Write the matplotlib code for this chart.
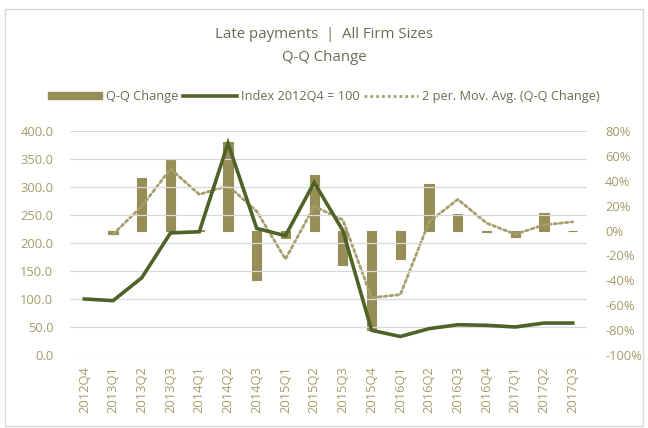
import numpy as np
import matplotlib
matplotlib.use("Agg")
import matplotlib.pyplot as plt
from matplotlib.lines import Line2D
from matplotlib.patches import Patch, Rectangle

# data
quarters = ["2012Q4", "2013Q1", "2013Q2", "2013Q3", "2014Q1", "2014Q2", "2014Q3",
            "2015Q1", "2015Q2", "2015Q3", "2015Q4", "2016Q1", "2016Q2", "2016Q3",
            "2016Q4", "2017Q1", "2017Q2", "2017Q3"]
qq_change = [np.nan, -3, 42, 57, 0.5, 71, -40, -6, 45, -28, -80, -23, 37, 13, -1, -5, 14, -0.5]
index_vals = [100, 97, 138, 218, 220, 378, 226, 213, 308, 222, 44, 33, 47, 54, 53, 50, 57, 57]
mov_avg = [np.nan, -3, 19.5, 49.5, 29, 36, 15.5, -23, 19.5, 8.5, -54, -51.5, 7, 25, 6, -3, 4.5, 7]

bar_col = "#978D57"
line_col = "#4F6228"
dot_col = "#A79E6E"
tick_col = "#A59C6A"
title_col = "#6E6B55"

plt.rcParams["font.family"] = ["Open Sans", "DejaVu Sans"]

fig = plt.figure(figsize=(6.48, 4.28), dpi=100)
fig.patches.append(Rectangle((0.008, 0.005), 0.985, 0.975, transform=fig.transFigure,
                             fill=False, edgecolor="#D9D9D9", linewidth=1))

ax = fig.add_axes([0.108, 0.1706, 0.798, 0.5234])
ax2 = ax.twinx()

x = np.arange(len(quarters))

# right axis: bars + moving average
ax2.bar(x, qq_change, width=0.32, color=bar_col, edgecolor=bar_col, linewidth=0.8, zorder=2)
ax2.plot(x, mov_avg, color=dot_col, linestyle=(0, (1, 1.1)), linewidth=2.0,
         dash_capstyle="round", zorder=3)
ax2.set_ylim(-100, 80)
ax2.set_yticks(np.arange(-100, 81, 20))
ax2.set_yticklabels(["%d%%" % v for v in np.arange(-100, 81, 20)])

# left axis: index line (drawn on top)
ax.set_zorder(ax2.get_zorder() + 1)
ax.patch.set_visible(False)
ax.plot(x, index_vals, color=line_col, linewidth=2.6, solid_joinstyle="miter", zorder=4)
ax.set_ylim(0, 400)
ax.set_yticks(np.arange(0, 401, 50))
ax.set_yticklabels(["%.1f" % v for v in np.arange(0, 401, 50)])
ax.set_xlim(-0.5, len(quarters) - 0.5)
ax.set_xticks(x)
ax.set_xticklabels(quarters, rotation=90)

# gridlines on the left scale
ax2.grid(False)
for v in np.arange(0, 401, 50):
    ax.axhline(v, color="#D9D9D9", linewidth=0.9, zorder=0)

for a in (ax, ax2):
    for s in a.spines.values():
        s.set_visible(False)
    a.tick_params(length=0, colors=tick_col, labelsize=9.3)
ax.tick_params(axis="y", pad=12)
ax2.tick_params(axis="y", pad=13)
ax.tick_params(axis="x", pad=8)

fig.text(0.5, 0.92, "Late payments  |  All Firm Sizes", ha="center", va="center",
         fontsize=10.8, color=title_col)
fig.text(0.5, 0.865, "Q-Q Change", ha="center", va="center", fontsize=10.8, color=title_col)

handles = [Patch(facecolor=bar_col, edgecolor=bar_col),
           Line2D([], [], color=line_col, linewidth=2.6),
           Line2D([], [], color=dot_col, linestyle=(0, (1, 1.1)), linewidth=2.0)]
labels = ["Q-Q Change", "Index 2012Q4 = 100", "2 per. Mov. Avg. (Q-Q Change)"]
leg = fig.legend(handles, labels, loc="center", bbox_to_anchor=(0.5, 0.775), ncol=3,
                 frameon=False, fontsize=9.2, handlelength=4.2, handleheight=0.5,
                 columnspacing=0.4, handletextpad=0.3)
for t in leg.get_texts():
    t.set_color(title_col)

fig.savefig("out.png", dpi=100)
